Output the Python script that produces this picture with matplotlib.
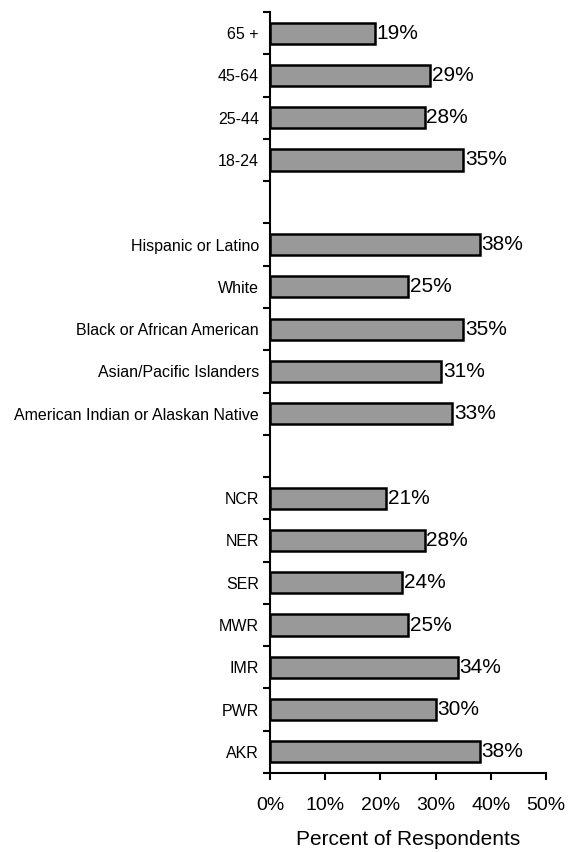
import matplotlib
matplotlib.use("Agg")
import matplotlib.pyplot as plt
import numpy as np

plt.rcParams['font.family'] = ['Liberation Sans', 'DejaVu Sans']

categories = ["65 +", "45-64", "25-44", "18-24", "",
              "Hispanic or Latino", "White", "Black or African American",
              "Asian/Pacific Islanders", "American Indian or Alaskan Native", "",
              "NCR", "NER", "SER", "MWR", "IMR", "PWR", "AKR"]
values = [19, 29, 28, 35, None,
          38, 25, 35, 31, 33, None,
          21, 28, 24, 25, 34, 30, 38]
xticks = [0, 10, 20, 30, 40, 50]
xticklabels = ["0%", "10%", "20%", "30%", "40%", "50%"]

fig = plt.figure(figsize=(5.68, 8.52), dpi=100)
ax = fig.add_axes([270/568, 1-773/852, 276/568, (773-12)/852])

n = len(categories)
pos = np.arange(n)
for p, v in zip(pos, values):
    if v is None:
        continue
    ax.barh(p, v, height=0.5, color="#999999", edgecolor="black", linewidth=1.8)
    ax.text(v + 0.3, p, f"{v}%", va="center", ha="left", fontsize=15)

ax.set_ylim(n - 0.5, -0.5)
ax.set_xlim(0, 50)
ax.set_yticks(pos)
ax.set_yticklabels(categories, fontsize=11.5)
ax.tick_params(axis="y", length=0, pad=8)
ax.set_yticks(np.arange(-0.5, n, 1.0), minor=True)
ax.tick_params(axis="y", which="minor", length=5, width=1.5, direction="out")
ax.set_xticks(xticks)
ax.set_xticklabels(xticklabels, fontsize=14)
ax.tick_params(axis="x", length=5, width=1.5, direction="out", pad=12)
ax.set_xlabel("Percent of Respondents", fontsize=15, labelpad=12)

for s in ["top", "right"]:
    ax.spines[s].set_visible(False)
for s in ["left", "bottom"]:
    ax.spines[s].set_linewidth(1.5)

fig.savefig("out.png", dpi=100)
